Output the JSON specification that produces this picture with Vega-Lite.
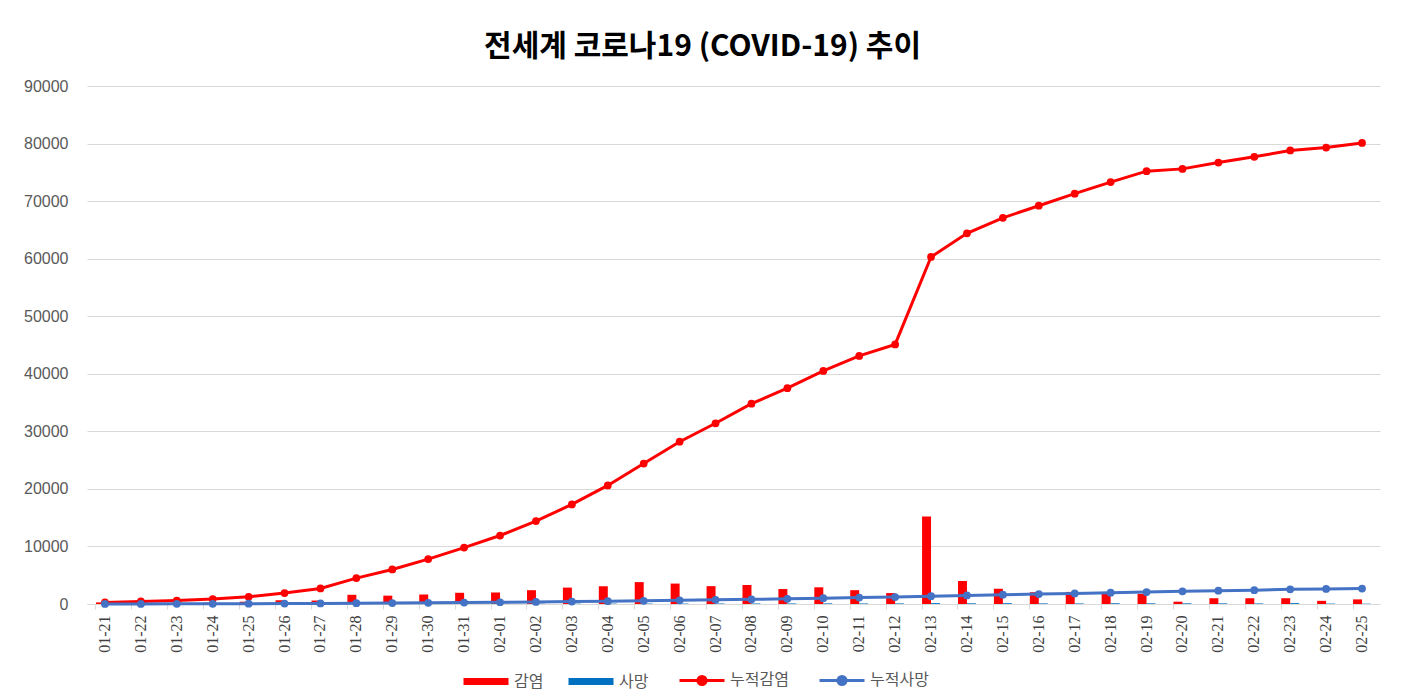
{
  "$schema": "https://vega.github.io/schema/vega-lite/v6.json",
  "width": 1293,
  "height": 518,
  "autosize": {"type": "none"},
  "padding": {"left": 87, "top": 86, "right": 24, "bottom": 92},
  "background": "white",
  "title": {
    "text": "전세계 코로나19 (COVID-19) 추이",
    "font": "Noto Sans CJK KR",
    "fontSize": 30,
    "fontWeight": "bold",
    "color": "#000000",
    "anchor": "middle",
    "dx": -31,
    "offset": 16
  },
  "data": {
    "values": [
      {"date": "01-21", "감염": 280, "사망": 6, "누적감염": 280, "누적사망": 6},
      {"date": "01-22", "감염": 160, "사망": 11, "누적감염": 440, "누적사망": 17},
      {"date": "01-23", "감염": 160, "사망": 8, "누적감염": 600, "누적사망": 25},
      {"date": "01-24", "감염": 250, "사망": 16, "누적감염": 850, "누적사망": 41},
      {"date": "01-25", "감염": 400, "사망": 15, "누적감염": 1250, "누적사망": 56},
      {"date": "01-26", "감염": 650, "사망": 24, "누적감염": 1900, "누적사망": 80},
      {"date": "01-27", "감염": 600, "사망": 26, "누적감염": 2700, "누적사망": 106},
      {"date": "01-28", "감염": 1600, "사망": 26, "누적감염": 4500, "누적사망": 132},
      {"date": "01-29", "감염": 1450, "사망": 38, "누적감염": 6000, "누적사망": 170},
      {"date": "01-30", "감염": 1650, "사망": 43, "누적감염": 7800, "누적사망": 213},
      {"date": "01-31", "감염": 1950, "사망": 46, "누적감염": 9800, "누적사망": 259},
      {"date": "02-01", "감염": 2000, "사망": 45, "누적감염": 11900, "누적사망": 304},
      {"date": "02-02", "감염": 2400, "사망": 57, "누적감염": 14400, "누적사망": 361},
      {"date": "02-03", "감염": 2850, "사망": 64, "누적감염": 17300, "누적사망": 425},
      {"date": "02-04", "감염": 3100, "사망": 66, "누적감염": 20600, "누적사망": 491},
      {"date": "02-05", "감염": 3800, "사망": 73, "누적감염": 24400, "누적사망": 564},
      {"date": "02-06", "감염": 3550, "사망": 73, "누적감염": 28200, "누적사망": 637},
      {"date": "02-07", "감염": 3100, "사망": 86, "누적감염": 31400, "누적사망": 723},
      {"date": "02-08", "감염": 3300, "사망": 89, "누적감염": 34800, "누적사망": 812},
      {"date": "02-09", "감염": 2600, "사망": 97, "누적감염": 37500, "누적사망": 909},
      {"date": "02-10", "감염": 2900, "사망": 108, "누적감염": 40500, "누적사망": 1017},
      {"date": "02-11", "감염": 2400, "사망": 97, "누적감염": 43100, "누적사망": 1114},
      {"date": "02-12", "감염": 1900, "사망": 100, "누적감염": 45100, "누적사망": 1214},
      {"date": "02-13", "감염": 15200, "사망": 150, "누적감염": 60300, "누적사망": 1364},
      {"date": "02-14", "감염": 4000, "사망": 120, "누적감염": 64400, "누적사망": 1484},
      {"date": "02-15", "감염": 2650, "사망": 140, "누적감염": 67100, "누적사망": 1624},
      {"date": "02-16", "감염": 2050, "사망": 105, "누적감염": 69200, "누적사망": 1729},
      {"date": "02-17", "감염": 2100, "사망": 98, "누적감염": 71300, "누적사망": 1827},
      {"date": "02-18", "감염": 1850, "사망": 136, "누적감염": 73300, "누적사망": 1963},
      {"date": "02-19", "감염": 1750, "사망": 115, "누적감염": 75200, "누적사망": 2078},
      {"date": "02-20", "감염": 400, "사망": 118, "누적감염": 75600, "누적사망": 2196},
      {"date": "02-21", "감염": 1000, "사망": 109, "누적감염": 76700, "누적사망": 2305},
      {"date": "02-22", "감염": 1000, "사망": 97, "누적감염": 77700, "누적사망": 2402},
      {"date": "02-23", "감염": 1000, "사망": 150, "누적감염": 78800, "누적사망": 2552},
      {"date": "02-24", "감염": 550, "사망": 71, "누적감염": 79300, "누적사망": 2623},
      {"date": "02-25", "감염": 800, "사망": 52, "누적감염": 80100, "누적사망": 2675}
    ]
  },
  "encoding": {
    "x": {
      "field": "date",
      "type": "ordinal",
      "sort": null,
      "title": null,
      "scale": {"paddingInner": 0.5, "paddingOuter": 0.25},
      "axis": {
        "labelAngle": -90,
        "labelAlign": "right",
        "labelBaseline": "middle",
        "labelFont": "Liberation Serif",
        "labelFontSize": 16,
        "labelColor": "#404040",
        "labelPadding": 6,
        "domainColor": "#D9D9D9",
        "tickColor": "#D9D9D9",
        "tickSize": 5,
        "bandPosition": 0,
        "grid": false
      }
    }
  },
  "layer": [
    {
      "transform": [{"fold": ["감염", "사망"], "as": ["series", "value"]}],
      "mark": {"type": "bar"},
      "encoding": {
        "xOffset": {"field": "series", "type": "nominal", "sort": ["감염", "사망"], "scale": {"paddingInner": 0, "paddingOuter": 0}},
        "y": {
          "field": "value",
          "type": "quantitative",
          "title": null,
          "scale": {"domain": [0, 90000]},
          "axis": {
            "values": [0, 10000, 20000, 30000, 40000, 50000, 60000, 70000, 80000, 90000],
            "format": "d",
            "labelFont": "Liberation Sans",
            "labelFontSize": 16,
            "labelColor": "#595959",
            "labelPadding": 19,
            "ticks": false,
            "domain": false,
            "gridColor": "#D9D9D9",
            "gridWidth": 1
          }
        },
        "color": {
          "field": "series",
          "type": "nominal",
          "scale": {"domain": ["감염", "사망", "누적감염", "누적사망"], "range": ["#FF0000", "#0070C0", "#FF0000", "#4472C4"]},
          "legend": {
            "title": null,
            "orient": "none",
            "legendX": 391,
            "legendY": 586,
            "direction": "horizontal",
            "columns": 4,
            "columnPadding": 24,
            "symbolSize": 2025,
            "labelOffset": 20,
            "labelFont": "Noto Sans CJK KR",
            "labelFontSize": 16,
            "labelColor": "#595959",
            "encode": {
              "symbols": {
                "update": {
                  "shape": {"signal": "indexof(['감염','사망'], datum.value) >= 0 ? 'M-1,-0.16H1V0.16H-1Z' : 'M-1,0H1M-0.18,0A0.18,0.18,0,1,0,0.18,0A0.18,0.18,0,1,0,-0.18,0Z'"},
                  "fill": {"scale": "color", "field": "value"},
                  "stroke": {"scale": "color", "field": "value"},
                  "strokeWidth": {"signal": "indexof(['감염','사망'], datum.value) >= 0 ? 0 : 3"},
                  "opacity": {"value": 1},
                  "fillOpacity": {"value": 1}
                }
              }
            }
          }
        }
      }
    },
    {
      "transform": [{"fold": ["누적감염", "누적사망"], "as": ["series", "value"]}],
      "mark": {"type": "line", "strokeWidth": 3, "point": {"filled": true, "size": 60, "opacity": 1}},
      "encoding": {
        "y": {"field": "value", "type": "quantitative"},
        "color": {"field": "series", "type": "nominal"}
      }
    }
  ],
  "config": {
    "view": {"stroke": null},
    "axis": {"labelFont": "Liberation Sans"}
  }
}
